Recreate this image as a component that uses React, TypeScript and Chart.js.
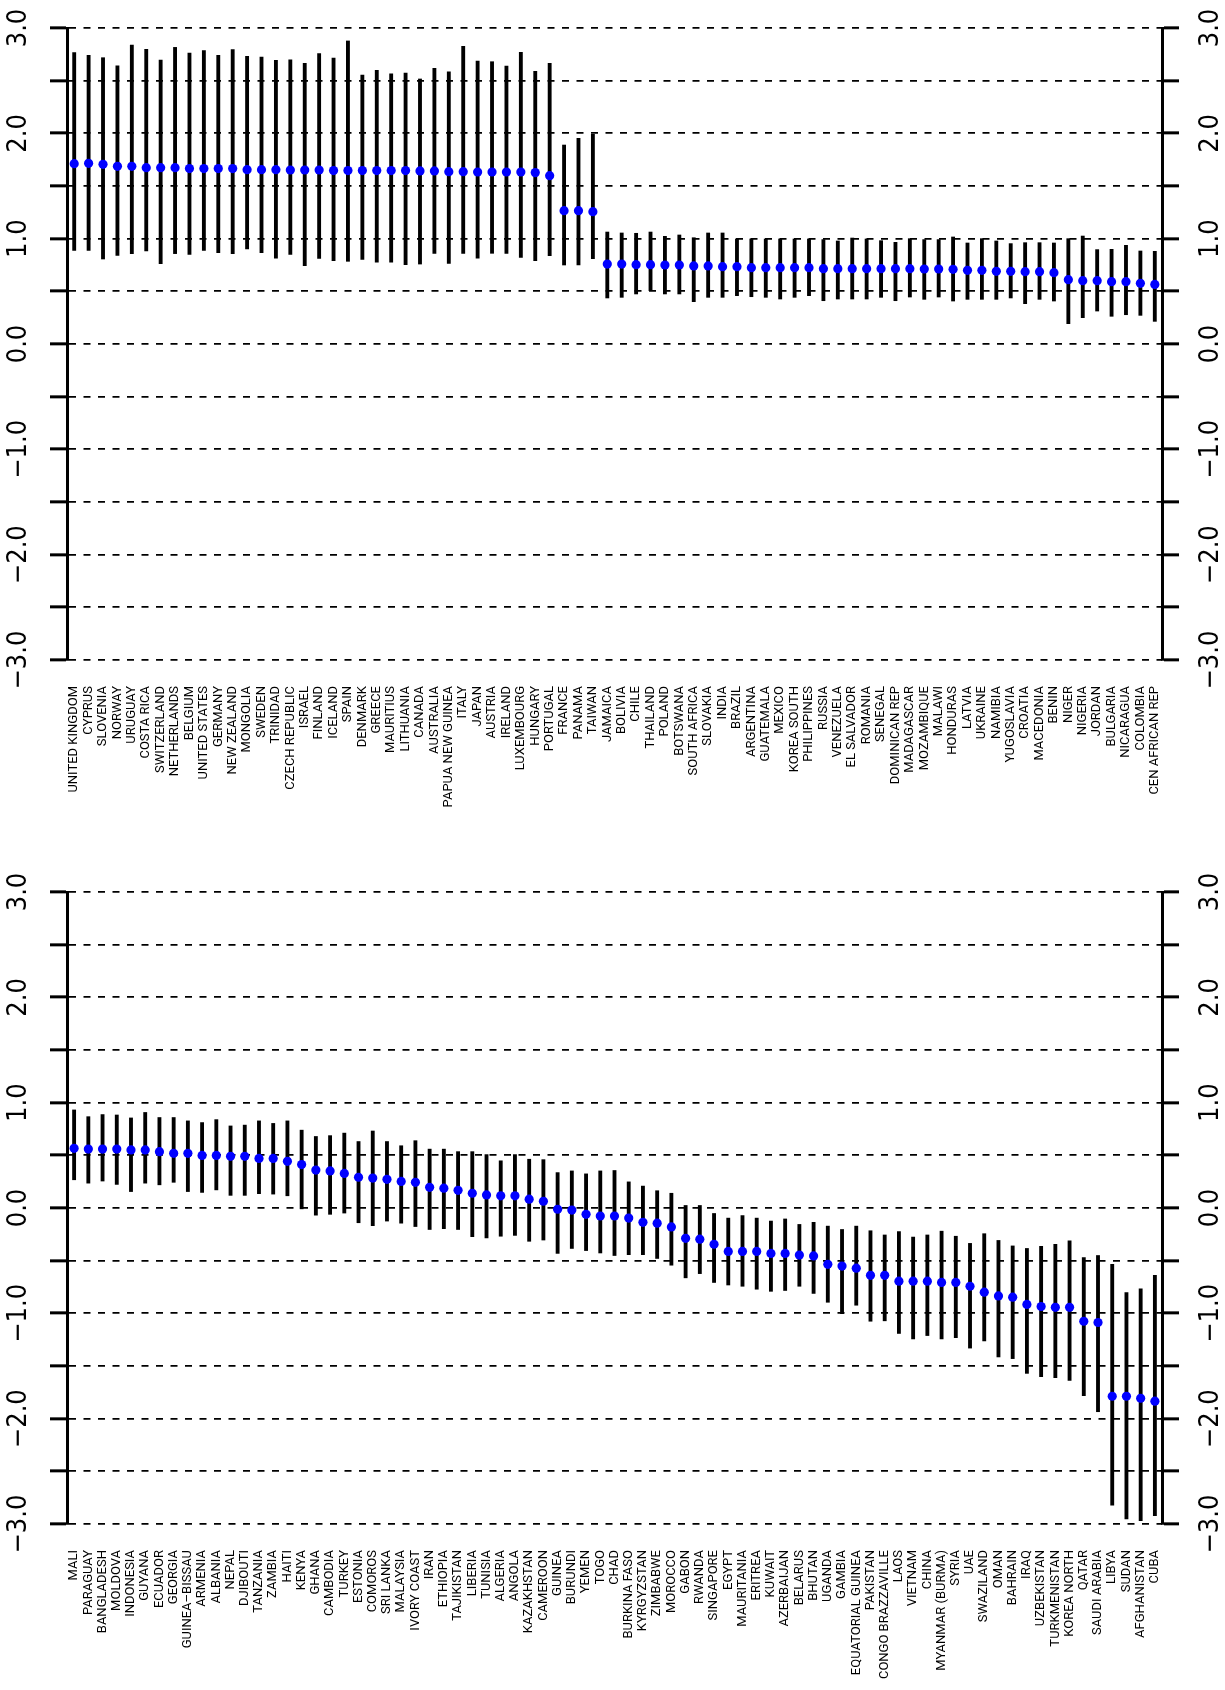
import React, { useEffect, useRef } from "react";
import { Chart, registerables } from "chart.js";

Chart.register(...registerables);

// ---------- data: top panel ----------
const topCountries = [
  "UNITED KINGDOM", "CYPRUS", "SLOVENIA", "NORWAY", "URUGUAY", "COSTA RICA", "SWITZERLAND",
  "NETHERLANDS", "BELGIUM", "UNITED STATES", "GERMANY", "NEW ZEALAND", "MONGOLIA", "SWEDEN",
  "TRINIDAD", "CZECH REPUBLIC", "ISRAEL", "FINLAND", "ICELAND", "SPAIN", "DENMARK", "GREECE",
  "MAURITIUS", "LITHUANIA", "CANADA", "AUSTRALIA", "PAPUA NEW GUINEA", "ITALY", "JAPAN",
  "AUSTRIA", "IRELAND", "LUXEMBOURG", "HUNGARY", "PORTUGAL", "FRANCE", "PANAMA", "TAIWAN",
  "JAMAICA", "BOLIVIA", "CHILE", "THAILAND", "POLAND", "BOTSWANA", "SOUTH AFRICA", "SLOVAKIA",
  "INDIA", "BRAZIL", "ARGENTINA", "GUATEMALA", "MEXICO", "KOREA SOUTH", "PHILIPPINES", "RUSSIA",
  "VENEZUELA", "EL SALVADOR", "ROMANIA", "SENEGAL", "DOMINICAN REP", "MADAGASCAR", "MOZAMBIQUE",
  "MALAWI", "HONDURAS", "LATVIA", "UKRAINE", "NAMIBIA", "YUGOSLAVIA", "CROATIA", "MACEDONIA",
  "BENIN", "NIGER", "NIGERIA", "JORDAN", "BULGARIA", "NICARAGUA", "COLOMBIA", "CEN AFRICAN REP",
];
const topEstimate = [
  1.712, 1.715, 1.706, 1.687, 1.687, 1.674, 1.674, 1.674, 1.665, 1.665, 1.665, 1.665, 1.655, 1.655,
  1.655, 1.652, 1.652, 1.652, 1.646, 1.646, 1.646, 1.646, 1.646, 1.646, 1.643, 1.643, 1.636, 1.636,
  1.633, 1.633, 1.633, 1.633, 1.627, 1.598, 1.266, 1.266, 1.256, 0.759, 0.759, 0.753, 0.753, 0.75,
  0.75, 0.741, 0.741, 0.734, 0.734, 0.725, 0.725, 0.725, 0.725, 0.725, 0.715, 0.715, 0.715, 0.715,
  0.715, 0.715, 0.715, 0.712, 0.712, 0.709, 0.699, 0.699, 0.69, 0.69, 0.687, 0.687, 0.677, 0.611,
  0.601, 0.601, 0.592, 0.592, 0.576, 0.566,
];
const topLower = [
  0.889, 0.889, 0.807, 0.842, 0.858, 0.883, 0.763, 0.858, 0.851, 0.889, 0.867, 0.858, 0.902, 0.867,
  0.816, 0.851, 0.744, 0.813, 0.791, 0.785, 0.804, 0.778, 0.778, 0.753, 0.759, 0.861, 0.766, 0.861,
  0.816, 0.861, 0.861, 0.823, 0.791, 0.839, 0.75, 0.75, 0.81, 0.437, 0.443, 0.475, 0.506, 0.475,
  0.475, 0.402, 0.443, 0.443, 0.459, 0.449, 0.443, 0.427, 0.443, 0.459, 0.411, 0.427, 0.427, 0.427,
  0.443, 0.411, 0.446, 0.424, 0.446, 0.408, 0.424, 0.424, 0.424, 0.437, 0.383, 0.424, 0.408, 0.193,
  0.25, 0.313, 0.263, 0.278, 0.272, 0.215,
];
const topUpper = [
  2.766, 2.741, 2.718, 2.642, 2.839, 2.797, 2.696, 2.816, 2.763, 2.785, 2.741, 2.794, 2.731, 2.725,
  2.693, 2.699, 2.665, 2.756, 2.715, 2.877, 2.554, 2.598, 2.566, 2.573, 2.516, 2.617, 2.585, 2.826,
  2.687, 2.68, 2.639, 2.769, 2.589, 2.665, 1.889, 1.953, 1.991, 1.063, 1.054, 1.051, 1.063, 1.022,
  1.035, 1.009, 1.054, 1.054, 0.997, 0.997, 0.997, 0.997, 0.997, 0.997, 0.991, 0.978, 1.006, 0.997,
  0.981, 0.965, 1.0, 0.991, 0.991, 1.016, 0.959, 1.0, 0.978, 0.953, 0.962, 0.962, 0.959, 1.0,
  1.025, 0.896, 0.899, 0.937, 0.883, 0.88,
];

// ---------- data: bottom panel ----------
const bottomCountries = [
  "MALI", "PARAGUAY", "BANGLADESH", "MOLDOVA", "INDONESIA", "GUYANA", "ECUADOR", "GEORGIA",
  "GUINEA\u2013BISSAU", "ARMENIA", "ALBANIA", "NEPAL", "DJIBOUTI", "TANZANIA", "ZAMBIA", "HAITI",
  "KENYA", "GHANA", "CAMBODIA", "TURKEY", "ESTONIA", "COMOROS", "SRI LANKA", "MALAYSIA",
  "IVORY COAST", "IRAN", "ETHIOPIA", "TAJIKISTAN", "LIBERIA", "TUNISIA", "ALGERIA", "ANGOLA",
  "KAZAKHSTAN", "CAMEROON", "GUINEA", "BURUNDI", "YEMEN", "TOGO", "CHAD", "BURKINA FASO",
  "KYRGYZSTAN", "ZIMBABWE", "MOROCCO", "GABON", "RWANDA", "SINGAPORE", "EGYPT", "MAURITANIA",
  "ERITREA", "KUWAIT", "AZERBAIJAN", "BELARUS", "BHUTAN", "UGANDA", "GAMBIA", "EQUATORIAL GUINEA",
  "PAKISTAN", "CONGO BRAZZAVILLE", "LAOS", "VIETNAM", "CHINA", "MYANMAR (BURMA)", "SYRIA", "UAE",
  "SWAZILAND", "OMAN", "BAHRAIN", "IRAQ", "UZBEKISTAN", "TURKMENISTAN", "KOREA NORTH", "QATAR",
  "SAUDI ARABIA", "LIBYA", "SUDAN", "AFGHANISTAN", "CUBA",
];
const bottomEstimate = [
  0.567, 0.559, 0.559, 0.559, 0.551, 0.551, 0.535, 0.519, 0.519, 0.499, 0.499, 0.491, 0.491, 0.471,
  0.471, 0.443, 0.412, 0.36, 0.352, 0.328, 0.292, 0.284, 0.272, 0.252, 0.244, 0.196, 0.188, 0.168,
  0.14, 0.124, 0.116, 0.116, 0.084, 0.064, -0.012, -0.02, -0.06, -0.076, -0.076, -0.096, -0.136,
  -0.144, -0.18, -0.288, -0.296, -0.344, -0.412, -0.412, -0.412, -0.431, -0.431, -0.447, -0.455,
  -0.535, -0.551, -0.571, -0.639, -0.639, -0.695, -0.695, -0.695, -0.707, -0.707, -0.743, -0.799,
  -0.835, -0.847, -0.915, -0.935, -0.943, -0.943, -1.075, -1.087, -1.787, -1.787, -1.806, -1.834,
];
const bottomLower = [
  0.268, 0.236, 0.256, 0.224, 0.156, 0.236, 0.22, 0.244, 0.156, 0.148, 0.172, 0.12, 0.12, 0.136,
  0.132, 0.116, -0.008, -0.068, -0.06, -0.048, -0.14, -0.168, -0.124, -0.144, -0.176, -0.204,
  -0.196, -0.204, -0.272, -0.284, -0.268, -0.26, -0.316, -0.304, -0.431, -0.384, -0.404, -0.427,
  -0.451, -0.443, -0.443, -0.479, -0.543, -0.663, -0.623, -0.707, -0.731, -0.743, -0.771, -0.791,
  -0.783, -0.743, -0.811, -0.895, -1.003, -0.923, -1.075, -1.071, -1.191, -1.243, -1.211, -1.243,
  -1.231, -1.33, -1.262, -1.414, -1.43, -1.57, -1.602, -1.61, -1.638, -1.782, -1.934, -2.821,
  -2.952, -2.968, -2.92,
];
const bottomUpper = [
  0.931, 0.867, 0.887, 0.883, 0.855, 0.907, 0.859, 0.859, 0.827, 0.811, 0.839, 0.779, 0.787, 0.827,
  0.803, 0.827, 0.739, 0.679, 0.687, 0.711, 0.631, 0.731, 0.631, 0.591, 0.639, 0.559, 0.559, 0.535,
  0.535, 0.507, 0.448, 0.507, 0.463, 0.459, 0.336, 0.352, 0.324, 0.352, 0.356, 0.248, 0.208, 0.164,
  0.14, 0.024, 0.024, -0.052, -0.096, -0.072, -0.096, -0.124, -0.104, -0.156, -0.136, -0.172,
  -0.204, -0.172, -0.216, -0.256, -0.224, -0.276, -0.256, -0.22, -0.268, -0.336, -0.244, -0.308,
  -0.36, -0.384, -0.364, -0.344, -0.312, -0.471, -0.451, -0.535, -0.803, -0.767, -0.639,
];

// ---------- axis ticks ----------
const yTickValues = [-3, -2.5, -2, -1.5, -1, -0.5, 0, 0.5, 1, 1.5, 2, 2.5, 3];
const yTickLabels = ["\u22123.0", "", "\u22122.0", "", "\u22121.0", "", "0.0", "", "1.0", "", "2.0", "", "3.0"];

const W = 1225;
const PANEL_H = 845;
const PLOT_H = 632;
const AXIS_LEFT_W = 67;
const AXIS_RIGHT_W = 63;

const catFont = { family: "Roboto, 'DejaVu Sans', sans-serif", size: 13 };
const yFont = { family: "'Liberation Sans Narrow', 'DejaVu Sans Condensed', 'Liberation Sans', sans-serif", size: 27 };

function makeYAxis(position: "left" | "right", onArea: boolean, width: number) {
  return {
    position,
    min: -3,
    max: 3,
    afterBuildTicks: (s: any) => {
      s.ticks = yTickValues.map((v) => ({ value: v }));
    },
    ticks: {
      autoSkip: false,
      minRotation: 90,
      maxRotation: 90,
      crossAlign: "center",
      padding: 2,
      color: "#000",
      font: yFont,
      callback: (v: any) => {
        const idx = yTickValues.indexOf(Number(v));
        return idx >= 0 ? yTickLabels[idx] : "";
      },
    },
    grid: {
      display: true,
      drawOnChartArea: onArea,
      drawTicks: true,
      color: "#000",
      lineWidth: 1.7,
      tickLength: 17,
      tickWidth: 3,
      tickColor: "#000",
      tickBorderDash: [],
    },
    border: { display: true, color: "#000", width: 3, dash: [7, 7.5] },
    afterFit: (s: any) => {
      s.width = width;
    },
  };
}

function Panel(props: { countries: string[]; est: number[]; lo: number[]; hi: number[]; padTop: number; top: number }) {
  const ref = useRef<HTMLCanvasElement | null>(null);
  useEffect(() => {
    const canvas = ref.current;
    if (!canvas) return;
    const xHeight = PANEL_H - props.padTop - PLOT_H;
    const chart = new Chart(canvas, {
      type: "bar",
      data: {
        labels: props.countries,
        datasets: [
          {
            type: "line",
            data: props.est,
            showLine: false,
            pointRadius: 4.6,
            pointHoverRadius: 4.6,
            pointBackgroundColor: "#0000FF",
            pointBorderColor: "#0000FF",
            pointBorderWidth: 0,
            order: 0,
            yAxisID: "y",
          } as any,
          {
            type: "bar",
            data: props.lo.map((l, i) => [l, props.hi[i]]),
            backgroundColor: "#000",
            borderWidth: 0,
            barThickness: 3.2,
            grouped: false,
            order: 1,
            yAxisID: "y",
          } as any,
        ],
      },
      options: {
        responsive: false,
        animation: false,
        events: [],
        layout: { padding: { top: props.padTop, left: 0, right: 0, bottom: 0 } },
        plugins: { legend: { display: false }, tooltip: { enabled: false } },
        scales: {
          x: {
            type: "category",
            offset: true,
            grid: { display: false, drawTicks: false },
            border: { display: false },
            ticks: {
              autoSkip: false,
              minRotation: 90,
              maxRotation: 90,
              padding: 26,
              color: "#000",
              font: catFont,
            },
            afterFit: (s: any) => {
              s.height = xHeight;
            },
          },
          y: makeYAxis("left", true, AXIS_LEFT_W) as any,
          y2: makeYAxis("right", false, AXIS_RIGHT_W) as any,
        },
      } as any,
    });
    return () => chart.destroy();
  }, []);
  return (
    <canvas
      ref={ref}
      width={W}
      height={PANEL_H}
      style={{ position: "absolute", left: 0, top: props.top, width: W, height: PANEL_H, display: "block" }}
    />
  );
}

export default function App() {
  return (
    <div style={{ position: "absolute", left: 0, top: 0, width: W, height: PANEL_H * 2, background: "#fff" }}>
      <Panel countries={topCountries} est={topEstimate} lo={topLower} hi={topUpper} padTop={28} top={0} />
      <Panel countries={bottomCountries} est={bottomEstimate} lo={bottomLower} hi={bottomUpper} padTop={47} top={PANEL_H} />
    </div>
  );
}
